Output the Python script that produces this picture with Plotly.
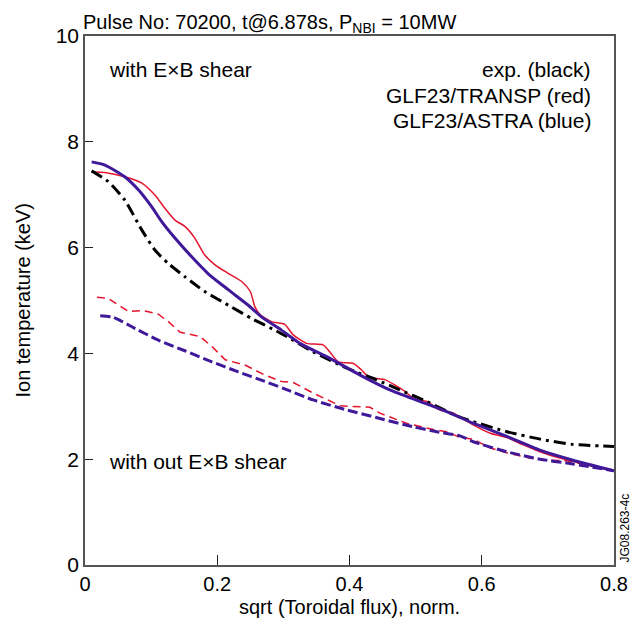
import plotly.graph_objects as go

# values
rho_exp = [0.010, 0.035, 0.060, 0.086, 0.106, 0.126, 0.151, 0.181, 0.217, 0.252, 0.287,
           0.305, 0.345, 0.396, 0.441, 0.476, 0.517, 0.562, 0.587, 0.638, 0.688, 0.738, 0.800]
ti_exp = [7.45, 7.25, 6.90, 6.33, 5.95, 5.70, 5.45, 5.17, 4.91, 4.66, 4.44,
          4.32, 4.03, 3.72, 3.50, 3.31, 3.09, 2.82, 2.71, 2.52, 2.38, 2.28, 2.24]

rho_astra = [0.010, 0.030, 0.060, 0.081, 0.101, 0.116, 0.136, 0.161, 0.186, 0.217, 0.247, 0.267,
             0.297, 0.325, 0.370, 0.416, 0.461, 0.507, 0.547, 0.587, 0.638, 0.688, 0.738, 0.800]
ti_astra = [7.62, 7.56, 7.34, 7.09, 6.77, 6.49, 6.18, 5.83, 5.51, 5.20, 4.91, 4.69,
            4.44, 4.19, 3.91, 3.59, 3.31, 3.09, 2.90, 2.68, 2.43, 2.17, 1.98, 1.78]

rho_transp = [0.010, 0.030, 0.060, 0.086, 0.106, 0.121, 0.136, 0.151, 0.166, 0.181, 0.197, 0.217,
              0.237, 0.250, 0.257, 0.265, 0.282, 0.302, 0.315, 0.335, 0.360, 0.370, 0.383, 0.406,
              0.418, 0.429, 0.454, 0.469, 0.484, 0.497, 0.517, 0.537, 0.557, 0.587, 0.613, 0.638,
              0.663, 0.688, 0.718, 0.749, 0.800]
ti_transp = [7.43, 7.42, 7.34, 7.22, 6.99, 6.74, 6.52, 6.40, 6.18, 5.86, 5.67, 5.51,
             5.36, 5.17, 4.88, 4.73, 4.60, 4.55, 4.35, 4.19, 4.16, 4.03, 3.84, 3.81,
             3.69, 3.55, 3.50, 3.40, 3.28, 3.15, 3.09, 2.93, 2.87, 2.65, 2.49, 2.41,
             2.27, 2.14, 2.02, 1.93, 1.78]

# without ExB shear
rho_transp_noexb = [0.018, 0.035, 0.066, 0.088, 0.111, 0.126, 0.144, 0.174, 0.192, 0.212, 0.242,
                    0.272, 0.297, 0.315, 0.345, 0.386, 0.431, 0.446, 0.486, 0.527, 0.547, 0.567,
                    0.587, 0.613, 0.638, 0.673, 0.704, 0.729, 0.759, 0.800]
ti_transp_noexb = [5.06, 5.04, 4.79, 4.81, 4.74, 4.60, 4.40, 4.32, 4.13, 3.88, 3.78,
                   3.59, 3.47, 3.45, 3.25, 3.01, 2.98, 2.87, 2.68, 2.56, 2.52, 2.41,
                   2.38, 2.21, 2.12, 2.02, 1.98, 1.97, 1.89, 1.78]

rho_astra_noexb = [0.023, 0.043, 0.076, 0.111, 0.151, 0.192, 0.232, 0.272, 0.302, 0.345,
                   0.396, 0.446, 0.497, 0.532, 0.567, 0.587, 0.638, 0.688, 0.738, 0.800]
ti_astra_noexb = [4.71, 4.68, 4.47, 4.25, 4.05, 3.84, 3.65, 3.47, 3.33, 3.12,
                  2.93, 2.77, 2.61, 2.52, 2.44, 2.33, 2.14, 2.00, 1.91, 1.78]

x_ticks = [0, 0.2, 0.4, 0.6, 0.8]
x_ticktext = ["0", "0.2", "0.4", "0.6", "0.8"]
y_ticks = [0, 2, 4, 6, 8, 10]

RED = "#e4142c"
BLUE = "#40199a"
FONT = "Liberation Sans, Arial, sans-serif"

fig = go.Figure()

fig.add_trace(go.Scatter(x=rho_transp_noexb, y=ti_transp_noexb, mode="lines",
                         line=dict(color=RED, width=1.5, dash="8px,5px")))
fig.add_trace(go.Scatter(x=rho_astra_noexb, y=ti_astra_noexb, mode="lines",
                         line=dict(color=BLUE, width=3, dash="10px,4px", shape="spline", smoothing=0.6)))
fig.add_trace(go.Scatter(x=rho_transp, y=ti_transp, mode="lines",
                         line=dict(color=RED, width=1.5, shape="spline", smoothing=0.6)))
fig.add_trace(go.Scatter(x=rho_exp, y=ti_exp, mode="lines",
                         line=dict(color="black", width=3, dash="12px,5px,3px,5px",
                                   shape="spline", smoothing=0.6)))
fig.add_trace(go.Scatter(x=rho_astra, y=ti_astra, mode="lines",
                         line=dict(color=BLUE, width=3, shape="spline", smoothing=0.6)))

# the page body adds 8px around the figure, so the figure is 8px smaller
fig.update_layout(
    width=631, height=611,
    margin=dict(l=77, r=25, t=28, b=54),
    paper_bgcolor="#fff", plot_bgcolor="#fff",
    showlegend=False,
    font=dict(family=FONT, size=21, color="black"),
)
fig.update_xaxes(range=[0, 0.8], tickvals=x_ticks, ticktext=x_ticktext, automargin=False,
                 ticks="inside", ticklen=10, tickcolor="#222", tickwidth=1,
                 showline=True, linecolor="#555", linewidth=1.5, mirror=True,
                 showgrid=False, zeroline=False, tickfont=dict(size=20))
fig.update_yaxes(range=[0, 10], tickvals=y_ticks, automargin=False,
                 ticks="inside", ticklen=8, tickcolor="#222", tickwidth=1,
                 showline=True, linecolor="#555", linewidth=1.5, mirror=True,
                 showgrid=False, zeroline=False, tickfont=dict(size=21))

# title, labels and texts
fig.add_annotation(text="Pulse No: 70200, t@6.878s, P<sub>NBI</sub> = 10MW",
                   xref="paper", yref="paper", x=0, y=1, xanchor="left", yanchor="bottom",
                   xshift=-4, yshift=-2, showarrow=False, font=dict(size=20))
fig.add_annotation(text="Ion temperature (keV)", xref="paper", yref="paper",
                   x=-0.119, y=0.5, textangle=-90, showarrow=False,
                   xanchor="center", yanchor="middle", font=dict(size=20))
fig.add_annotation(text="sqrt (Toroidal flux), norm.", xref="paper", yref="paper",
                   x=0.5, y=-0.079, showarrow=False, xanchor="center", yanchor="middle",
                   font=dict(size=20))
fig.add_annotation(text="with E×B shear", xref="paper", yref="paper",
                   x=0.0416, y=0.936, xanchor="left", yanchor="middle", showarrow=False)
fig.add_annotation(text="with out E×B shear", xref="paper", yref="paper",
                   x=0.0416, y=0.195, xanchor="left", yanchor="middle", showarrow=False)
for label, ypos in [("exp. (black)", 0.936), ("GLF23/TRANSP (red)", 0.887),
                    ("GLF23/ASTRA (blue)", 0.841)]:
    fig.add_annotation(text=label, xref="paper", yref="paper", x=0.960, y=ypos,
                       xanchor="right", yanchor="middle", showarrow=False)
fig.add_annotation(text="JG08.263-4c", xref="paper", yref="paper", x=1.019, y=0,
                   textangle=-90, xanchor="center", yanchor="bottom", showarrow=False,
                   font=dict(size=12))

fig.write_html("out.html")
